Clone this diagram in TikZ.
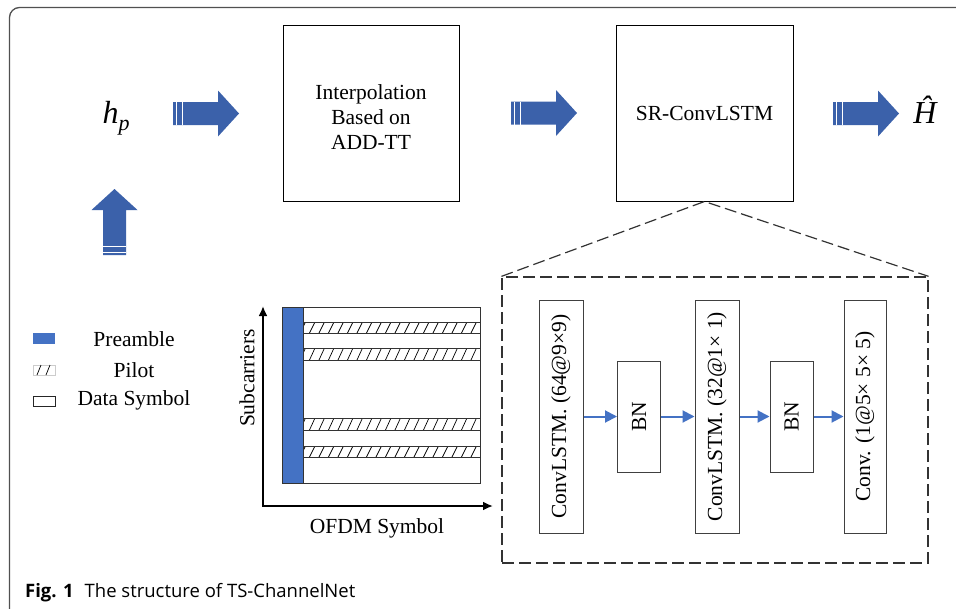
\documentclass[tikz,border=0pt]{standalone}
\usepackage{fontspec}
\setmainfont{Liberation Serif}
\newfontfamily\capfont{Open Sans}
\usetikzlibrary{arrows.meta,positioning}

\definecolor{arrowblue}{RGB}{59,97,170}
\definecolor{linkblue}{RGB}{68,114,196}
\definecolor{framegray}{RGB}{80,80,80}

\begin{document}
\begin{tikzpicture}[
  x=1pt, y=-1pt,
  txt/.style={font=\fontsize{21.5}{25}\selectfont},
  box/.style={draw, line width=1pt, minimum width=176pt, minimum height=176pt, align=center, txt},
  layer/.style={draw=black!75, line width=1pt, rotate=90, minimum width=233pt, minimum height=44pt, inner sep=0pt, txt},
  normbox/.style={draw=black!75, line width=1pt, rotate=90, minimum width=111pt, minimum height=43pt, inner sep=0pt, txt},
  link/.style={linkblue, line width=2pt, -{Triangle[length=12pt,width=12pt]}},
  zoomline/.style={dash pattern=on 12pt off 5pt, line width=1.2pt, black!80},
  axis/.style={line width=2pt, {Latex[length=10pt,width=9pt]}-{Latex[length=10pt,width=9pt]}},
  bigarrow/.pic={
    \fill[arrowblue] (0,-11.5) -- (45,-11.5) -- (45,-23) -- (66,0) -- (45,23) -- (45,11.5) -- (0,11.5) -- cycle;
    \draw[white, line width=0.9pt] (3,-11.5) -- (3,11.5) (9,-11.5) -- (9,11.5);
  }
]
\useasboundingbox (0,0) rectangle (956,608);
\clip (0,0) rectangle (956,608);

% frame and caption
\draw[framegray, line width=1.3pt, rounded corners=10pt] (9.5,640) -- (9.5,7.5) -- (980,7.5);
\node[anchor=base west, inner sep=0pt, font=\capfont\fontsize{18.5}{22}\selectfont] (caption) at (25,597)
  {\textbf{Fig. 1}\hspace{11pt}The structure of TS-ChannelNet};

% top row
\node[font=\fontsize{32}{36}\selectfont\itshape] (hp) at (116,118) {h\raisebox{-7pt}{\fontsize{22}{22}\selectfont p}};
\node[box] (interp) at (371,113) {\rule{0pt}{24pt}Interpolation\\Based on\\ADD-TT};
\node[box, minimum width=177pt] (srconv) at (704.5,113) {SR-ConvLSTM};
\node[font=\fontsize{32}{36}\selectfont\itshape] (hhat) at (925,110) {Ĥ};

\pic at (173,113.5) {bigarrow};
\pic at (511,113) {bigarrow};
\pic at (833,113.5) {bigarrow};
\pic[rotate=90] at (114.5,255) {bigarrow};

% zoom of SR-ConvLSTM
\node[draw, zoomline, minimum width=426pt, minimum height=286pt] (zoombox) at (715,420) {};
\draw[zoomline] (zoombox.north west) -- (srconv.south) -- (zoombox.north east);

\node[layer] (lstmA) at (561,416.5) {ConvLSTM. (64@9×9)};
\node[normbox] (bnA) at (639,416.5) {BN};
\node[layer] (lstmB) at (717,416.5) {ConvLSTM. (32@1× 1)};
\node[normbox] (bnB) at (791.5,416.5) {BN};
\node[layer, minimum height=42pt] (convout) at (865,416.5) {Conv. (1@5× 5× 5)};

\draw[link] (lstmA) -- (bnA);
\draw[link] (bnA) -- (lstmB);
\draw[link] (lstmB) -- (bnB);
\draw[link] (bnB) -- (convout);

% legend
\node[fill=linkblue, minimum width=22pt, minimum height=11pt, inner sep=0pt] (legpre) at (44,338.5) {};
\node[draw=black!20, line width=0.5pt, minimum width=22pt, minimum height=10pt, inner sep=0pt] (legpilot) at (44,370) {};
\draw[line width=0.7pt] (37,375) -- ++(4,-10) (46,375) -- ++(4,-10);
\node[draw=black!85, line width=0.8pt, minimum width=22pt, minimum height=10pt, inner sep=0pt] (legdata) at (44,401) {};
\node[txt] (txtpre) at (134,339) {Preamble};
\node[txt] (txtpilot) at (134,370) {Pilot};
\node[txt] (txtdata) at (134,400) {Data Symbol};

% resource grid
\node[draw=black!80, line width=0.8pt, minimum width=198pt, minimum height=176pt, inner sep=0pt, anchor=north west] (grid) at (282,307) {};
\node[draw=black!80, fill=linkblue, line width=0.8pt, minimum width=21pt, minimum height=176pt, inner sep=0pt, anchor=north west] (preamble) at (282,307) {};
\foreach \ra/\rb in {322/333, 348/360, 418/430, 446/457}{
  \begin{scope}
    \clip (303,\ra) rectangle (480,\rb);
    \foreach \x in {300,309.5,...,485}
      \draw[line width=0.7pt] (\x,\rb) -- ++(5.5,-\rb+\ra);
  \end{scope}
  \draw[black!80, line width=0.8pt] (303,\ra) rectangle (480,\rb);
}
\coordinate (origin) at (263,506);
\coordinate (ytip) at (263,306);
\coordinate (xtip) at (493,506);
\draw[axis] (ytip) -- (origin) -- (xtip);
\node[txt, rotate=90] (ylabel) at (247,378) {Subcarriers};
\node[txt] (xlabel) at (377,528) {OFDM Symbol};
\end{tikzpicture}
\end{document}
